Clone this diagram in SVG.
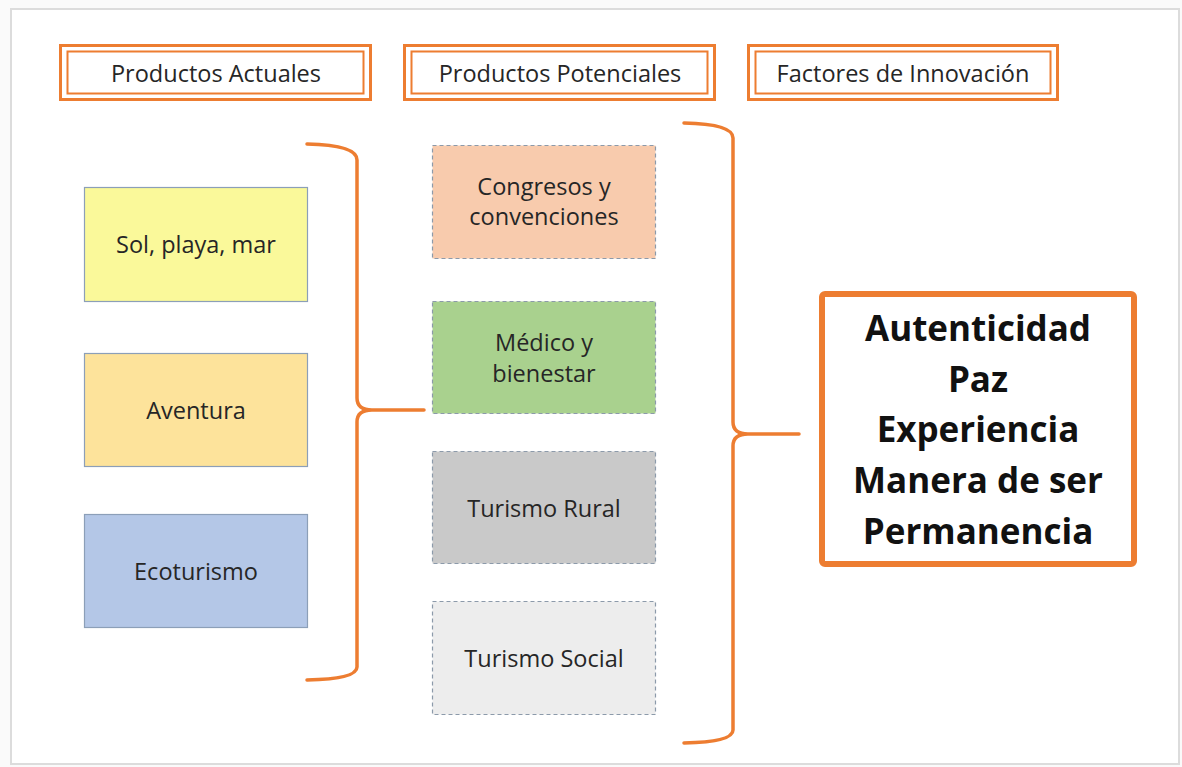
<svg xmlns="http://www.w3.org/2000/svg" width="1182" height="767" viewBox="0 0 1182 767">
<style>
.hdr-o{fill:none;stroke:#ED7D31;stroke-width:3}
.hdr-i{fill:#fff;stroke:#ED7D31;stroke-width:2}
.t{font-family:"Open Sans","Liberation Sans",sans-serif;font-size:23.5px;fill:#262626;text-anchor:middle;dominant-baseline:central}
.cur{stroke:#8C9FB8;stroke-width:1.2}
.pot{stroke:#8C9AAA;stroke-width:1.2;stroke-dasharray:4 3}
.br{fill:none;stroke:#ED7D31;stroke-width:3.5;stroke-linecap:round;stroke-linejoin:round}
.big{font-family:"Open Sans","Liberation Sans",sans-serif;font-weight:bold;font-size:35px;fill:#111;text-anchor:middle;dominant-baseline:central}
</style>
<rect x="0" y="0" width="1182" height="767" fill="#fafafa"/>
<rect x="11" y="9" width="1168" height="755" fill="#ffffff" stroke="#dcdcdc" stroke-width="2"/>

<g id="hdr-actuales">
<rect class="hdr-o" x="60.5" y="45.5" width="310" height="54"/>
<rect class="hdr-i" x="67.5" y="51.5" width="296" height="42"/>
<text class="t" x="216" y="73">Productos Actuales</text>
</g>
<g id="hdr-potenciales">
<rect class="hdr-o" x="404.5" y="45.5" width="310" height="54"/>
<rect class="hdr-i" x="411.5" y="51.5" width="296" height="42"/>
<text class="t" x="560" y="73">Productos Potenciales</text>
</g>
<g id="hdr-factores">
<rect class="hdr-o" x="748.5" y="45.5" width="309" height="54"/>
<rect class="hdr-i" x="755.5" y="51.5" width="295" height="42"/>
<text class="t" x="903" y="73">Factores de Innovación</text>
</g>

<g id="sol">
<rect class="cur" x="84.5" y="187.5" width="223" height="114" fill="#FAF99A"/>
<text class="t" x="196" y="244">Sol, playa, mar</text>
</g>
<g id="aventura">
<rect class="cur" x="84.5" y="353.5" width="223" height="113" fill="#FDE39B"/>
<text class="t" x="196" y="410">Aventura</text>
</g>
<g id="ecoturismo">
<rect class="cur" x="84.5" y="514.5" width="223" height="113" fill="#B4C7E7"/>
<text class="t" x="196" y="571">Ecoturismo</text>
</g>

<g id="congresos">
<rect class="pot" x="432.5" y="145.5" width="223" height="113" fill="#F8CBAD"/>
<text class="t" x="544" y="186">Congresos y</text>
<text class="t" x="544" y="216">convenciones</text>
</g>
<g id="medico">
<rect class="pot" x="432.5" y="301.5" width="223" height="112" fill="#A9D18E"/>
<text class="t" x="544" y="342">Médico y</text>
<text class="t" x="544" y="373">bienestar</text>
</g>
<g id="rural">
<rect class="pot" x="432.5" y="451.5" width="223" height="112" fill="#C9C9C9"/>
<text class="t" x="544" y="508">Turismo Rural</text>
</g>
<g id="social">
<rect class="pot" x="432.5" y="601.5" width="223" height="113" fill="#EDEDED"/>
<text class="t" x="544" y="658">Turismo Social</text>
</g>

<g id="factores">
<rect x="822" y="294" width="312" height="270" rx="3" fill="#fff" stroke="#ED7D31" stroke-width="6"/>
<text class="big" x="978" y="327">Autenticidad</text>
<text class="big" x="978" y="378">Paz</text>
<text class="big" x="978" y="428">Experiencia</text>
<text class="big" x="978" y="479">Manera de ser</text>
<text class="big" x="978" y="530">Permanencia</text>
</g>

<g id="connectors">
<path class="br" d="M307,144 Q357,145 357,160 L357,398 Q357,410 372,410 L424,410 M372,410 Q357,410 357,422 L357,667 Q357,679 307,680"/>
<path class="br" d="M684,123 Q733,124 733,138 L733,422 Q733,434 748,434 L799,434 M748,434 Q733,434 733,446 L733,730 Q733,742 684,743"/>
</g>
</svg>
